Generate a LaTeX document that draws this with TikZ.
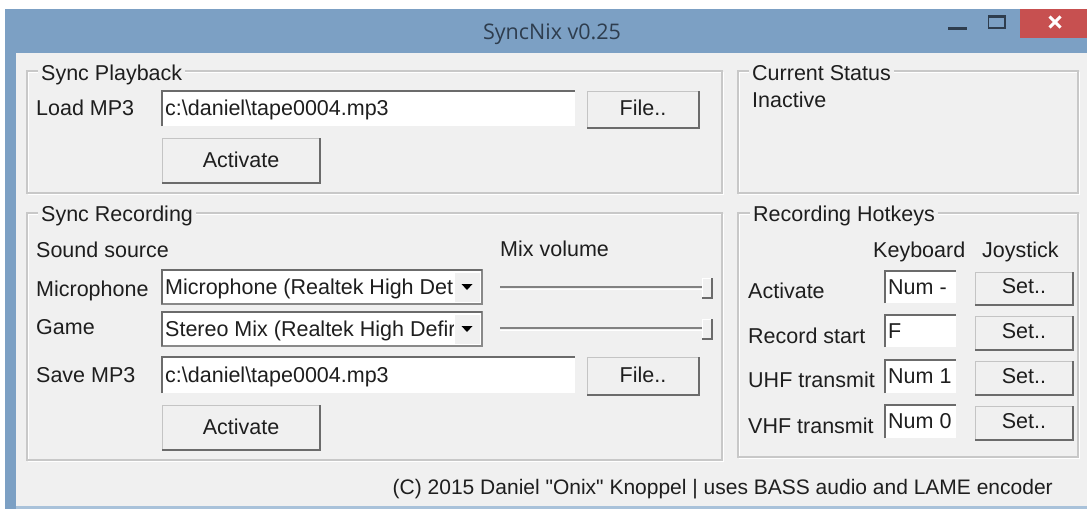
\documentclass[tikz,border=0pt]{standalone}
\usepackage{fontspec}
\setmainfont{Liberation Sans}[Ligatures=TeXOff]
\newfontfamily\titlefont{Open Sans}
\definecolor{winblue}{HTML}{7CA0C4}
\definecolor{winbluelight}{HTML}{A9C2DA}
\definecolor{uibg}{HTML}{F0F0F0}
\definecolor{etch}{HTML}{C8C8C8}
\definecolor{closered}{HTML}{C75050}
\definecolor{titletext}{HTML}{2E3D4E}
\definecolor{uitext}{HTML}{1E1E1E}
\definecolor{shade}{HTML}{6B6B6B}
\definecolor{btnedge}{HTML}{C4C4C4}
\tikzset{
  ui/.style={font=\fontsize{21.5}{25}\selectfont, text=uitext, inner sep=0pt},
  grouplabel/.style={ui, fill=uibg, inner xsep=3pt, inner ysep=1pt},
  groupframe/.style={draw=etch, line width=1.2pt},
  groupframehi/.style={draw=white, line width=1pt},
  btnbox/.style={rectangle, fill=uibg, draw=btnedge, line width=0.8pt, outer sep=0pt, inner sep=0pt},
  btnshade/.style={draw=shade, line width=2.4pt},
  fieldbox/.style={rectangle, fill=white, outer sep=0pt, inner sep=0pt},
  fieldshade/.style={draw=shade, line width=2pt},
  combobox/.style={rectangle, fill=white, draw=shade!80, line width=1.4pt, outer sep=0pt, inner sep=0pt},
  dropbtn/.style={rectangle, fill=uibg, outer sep=0pt, inner sep=0pt},
  thumb/.style={rectangle, fill=uibg, outer sep=0pt, inner sep=0pt, minimum width=10pt, minimum height=20pt},
  trackdark/.style={draw=shade!85, line width=2.6pt},
  tracklight/.style={draw=white, line width=1pt},
  winctl/.style={draw=titletext, line width=1.4pt},
}
% button: name, x1, y1, x2, y2, text, baseline offset from centre
\newcommand\uibutton[7]{%
  \node[btnbox, minimum width={#4-#2}, minimum height={#5-#3}] (#1) at ({(#2+#4)/2},{(#3+#5)/2}) {};
  \draw[btnshade] (#1.north east) -- (#1.south east) -- (#1.south west);
  \node[ui, anchor=base] (#1t) at ({(#2+#4)/2},{(#3+#5)/2+#7}) {#6};
}
% text field: name, x1, y1, x2, y2, text
\newcommand\uifield[6]{%
  \node[fieldbox, minimum width={#4-#2}, minimum height={#5-#3}] (#1) at ({(#2+#4)/2},{(#3+#5)/2}) {};
  \draw[fieldshade] (#1.south west) -- (#1.north west) -- (#1.north east);
  \node[ui, anchor=base west] (#1t) at ({#2+3},{(#3+#5)/2+7}) {#6};
}
% combo box: name, x1, y1, x2, y2, text
\newcommand\uicombo[6]{%
  \node[combobox, minimum width={#4-#2}, minimum height={#5-#3}] (#1) at ({(#2+#4)/2},{(#3+#5)/2}) {};
  \draw[fieldshade] (#1.south west) -- (#1.north west) -- (#1.north east);
  \begin{scope}
    \clip ({#2+1},#3) rectangle ({#4-28},#5);
    \node[ui, anchor=base west] (#1t) at ({#2+3},{(#3+#5)/2+7}) {#6};
  \end{scope}
  \node[dropbtn, minimum width=26pt, minimum height={#5-#3-4}] (#1b) at ({#4-15},{(#3+#5)/2}) {};
  \draw[draw=white, line width=1pt] (#1b.south west) -- (#1b.north west) -- (#1b.north east);
  \fill[black] ([xshift=-5.5pt,yshift=3pt]#1b.center) -- ([xshift=5.5pt,yshift=3pt]#1b.center) -- ([yshift=-3pt]#1b.center) -- cycle;
}
% slider: name, y of track
\newcommand\uislider[2]{%
  \coordinate (#1s) at (500,#2);
  \coordinate (#1e) at (708,#2);
  \draw[trackdark] (#1s) -- (#1e);
  \draw[tracklight] ([yshift=-2.2pt]#1s) -- ([yshift=-2.2pt]#1e);
  \node[thumb] (#1) at (707,{#2+1}) {};
  \draw[draw=white, line width=1pt] (#1.south west) -- (#1.north west) -- (#1.north east);
  \draw[draw=shade, line width=1.8pt] (#1.north east) -- (#1.south east) -- (#1.south west);
}
\begin{document}
\begin{tikzpicture}[x=1pt,y=-1pt]
\useasboundingbox (0,0) rectangle (1087,509);
% window chrome
\fill[white] (0,0) rectangle (1087,509);
\fill[winblue] (5,9) rectangle (1087,509);
\fill[uibg] (16,53) rectangle (1087,506);
\fill[winbluelight] (16,506) rectangle (1087,509);
\node[font=\titlefont\fontsize{21.5}{25}\selectfont, text=titletext, inner sep=0pt, anchor=base] (title) at (552,39) {SyncNix v0.25};
% window controls
\draw[titletext, line width=2.6pt] (948,28.5) -- (967,28.5);
\draw[winctl] (988.5,15.5) rectangle (1005,28);
\draw[titletext, line width=2.4pt] (988.5,16.5) -- (1005,16.5);
\fill[closered] (1020,9) rectangle (1087,38);
\draw[white, line width=3pt] (1049.5,16.5) -- (1060.5,27.5) (1049.5,27.5) -- (1060.5,16.5);

% group frames
\foreach \a/\b/\c/\d in {27/71/722/193, 738/71/1078/193, 27/213/722/460, 738/213/1078/457}{
  \draw[groupframehi] (\a+1.2,\b+1.2) rectangle (\c+1.2,\d+1.2);
  \draw[groupframe] (\a,\b) rectangle (\c,\d);
}
\node[grouplabel, anchor=base west] (gplay) at (38,80) {Sync Playback};
\node[grouplabel, anchor=base west] (gstat) at (749,80) {Current Status};
\node[grouplabel, anchor=base west] (grec) at (38,221) {Sync Recording};
\node[grouplabel, anchor=base west] (ghot) at (750,221) {Recording Hotkeys};

% Sync Playback
\node[ui, anchor=base west] (lload) at (36,115) {Load MP3};
\uifield{fload}{162}{91}{575}{126}{c:\textbackslash{}daniel\textbackslash{}tape0004.mp3}
\uibutton{bfile1}{587}{91}{699}{128}{File..}{6}
\uibutton{bact1}{162}{138}{320}{183}{Activate}{7}

% Current Status
\node[ui, anchor=base west] (lstat) at (752,107) {Inactive};

% Sync Recording
\node[ui, anchor=base west] (lsrc) at (36,257) {Sound source};
\node[ui, anchor=base west] (lmix) at (500,256) {Mix volume};
\node[ui, anchor=base west] (lmic) at (36,296) {Microphone};
\node[ui, anchor=base west] (lgame) at (36,334) {Game};
\node[ui, anchor=base west] (lsave) at (36,382) {Save MP3};
\uicombo{cmic}{162}{270}{482}{304}{Microphone (Realtek High Det}
\uicombo{cgame}{162}{312}{482}{346}{Stereo Mix (Realtek High Defir}
\uislider{smic}{287}
\uislider{sgame}{328}
\uifield{fsave}{162}{357}{575}{393}{c:\textbackslash{}daniel\textbackslash{}tape0004.mp3}
\uibutton{bfile2}{587}{357}{699}{395}{File..}{6}
\uibutton{bact2}{162}{405}{320}{450}{Activate}{6.5}

% Recording Hotkeys
\node[ui, anchor=base west] (lkey) at (873,257) {Keyboard};
\node[ui, anchor=base west] (ljoy) at (982,257) {Joystick};
\node[ui, anchor=base west] (lhact) at (748,298) {Activate};
\node[ui, anchor=base west] (lhrec) at (748,343) {Record start};
\node[ui, anchor=base west] (lhuhf) at (748,387) {UHF transmit};
\node[ui, anchor=base west] (lhvhf) at (748,433) {VHF transmit};
\uifield{khact}{885}{271}{956}{303}{Num -}
\uifield{khrec}{885}{315}{956}{347}{F}
\uifield{khuhf}{885}{360}{956}{393}{Num 1}
\uifield{khvhf}{885}{405}{956}{438}{Num 0}
\uibutton{jhact}{975}{272}{1073}{305}{Set..}{5}
\uibutton{jhrec}{975}{316}{1073}{350}{Set..}{5}
\uibutton{jhuhf}{975}{361}{1073}{395}{Set..}{5}
\uibutton{jhvhf}{975}{406}{1073}{440}{Set..}{5}

% footer
\node[ui, font=\fontsize{21}{25}\selectfont, anchor=base east] (footer) at (1053,494) {(C) 2015 Daniel "Onix" Knoppel | uses BASS audio and LAME encoder};
\end{tikzpicture}
\end{document}
